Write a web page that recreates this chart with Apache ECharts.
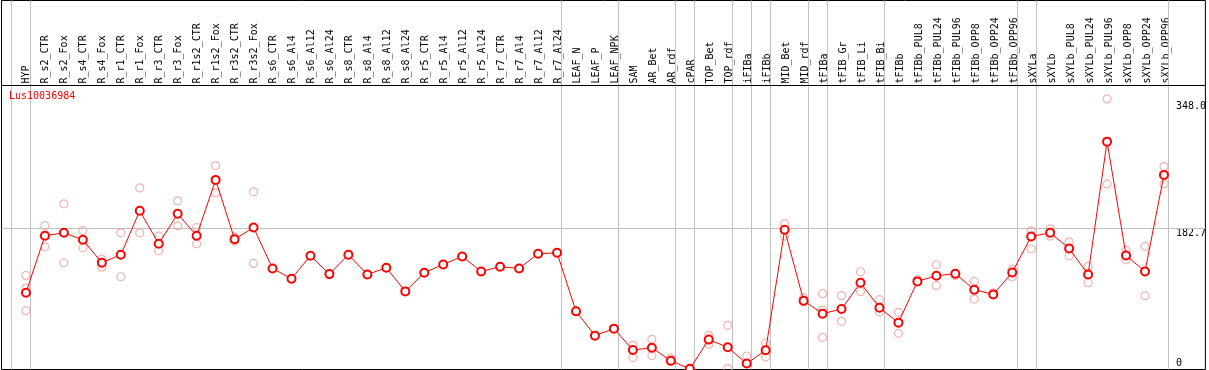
<!DOCTYPE html>
<html>
<head>
<meta charset="utf-8">
<script src="https://cdn.jsdelivr.net/npm/echarts@6/dist/echarts.min.js"></script>
<style>
html,body{margin:0;padding:0;background:#fff;}
#chart{width:1209px;height:370px;}
</style>
</head>
<body>
<div id="chart"></div>
<script>
const geneName = 'Lus10036984';
const categories = ['HYP','R_s2_CTR','R_s2_Fox','R_s4_CTR','R_s4_Fox','R_r1_CTR','R_r1_Fox','R_r3_CTR','R_r3_Fox','R_r1s2_CTR','R_r1s2_Fox','R_r3s2_CTR','R_r3s2_Fox','R_s6_CTR','R_s6_Al4','R_s6_Al12','R_s6_Al24','R_s8_CTR','R_s8_Al4','R_s8_Al12','R_s8_Al24','R_r5_CTR','R_r5_Al4','R_r5_Al12','R_r5_Al24','R_r7_CTR','R_r7_Al4','R_r7_Al12','R_r7_Al24','LEAF_N','LEAF_P','LEAF_NPK','SAM','AR_Bet','AR_rdf','cPAR','TOP_Bet','TOP_rdf','iFIBa','iFIBb','MID_Bet','MID_rdf','tFIBa','tFIB_Gr','tFIB_Li','tFIB_Bi','tFIBb','tFIBb_PUL8','tFIBb_PUL24','tFIBb_PUL96','tFIBb_OPP8','tFIBb_OPP24','tFIBb_OPP96','sXYLa','sXYLb','sXYLb_PUL8','sXYLb_PUL24','sXYLb_PUL96','sXYLb_OPP8','sXYLb_OPP24','sXYLb_OPP96'];
const meanValues = [99.1,173.2,177.1,168.0,138.1,148.5,205.7,162.8,201.8,173.2,246.0,168.8,184.0,130.7,117.3,147.2,123.3,148.5,122.9,131.6,100.8,125.1,135.9,146.3,126.8,132.9,130.7,149.8,151.1,74.8,43.2,52.3,24.5,27.3,10.5,0,38.0,28.0,6.8,24.1,181.0,88.7,71.8,77.8,112.1,79.6,60.1,113.8,121.2,123.8,103.0,96.9,125.5,172.3,177.1,156.7,122.9,295.8,147.6,126.8,252.5];
const rep1 = [121.6,186.6,214.8,180.1,142.8,177.1,235.6,172.7,218.7,184.0,264.6,171.4,230.4,null,null,null,null,null,null,null,null,null,null,null,null,null,null,null,null,null,null,null,30.6,38.4,14.0,null,43.6,56.6,16.6,33.6,188.8,92.6,97.8,95.2,126.4,90.0,73.5,116.0,135.5,121.6,113.8,98.6,129.8,179.7,182.3,165.4,133.3,351.4,154.1,159.3,263.3];
const rep2 = [105.1,158.9,138.1,157.6,132.4,119.9,177.1,153.7,186.2,162.8,229.1,166.2,137.2,null,null,null,null,null,null,null,null,null,null,null,null,null,null,null,null,null,null,null,14.6,17.2,9.4,null,31.9,0.3,null,15.3,172.7,86.9,41.0,61.8,100.4,73.9,46.2,null,108.2,null,90.8,null,119.4,156.3,172.7,147.2,112.1,240.8,142.0,95.2,240.8];
const rep3 = [75.7,null,null,null,null,null,null,null,null,null,null,null,null,null,null,null,null,null,null,null,null,null,null,null,null,null,null,null,null,null,null,null,null,null,null,null,null,null,null,null,null,null,76.1,null,null,null,null,null,null,null,null,null,null,null,null,null,null,null,null,null,null];
const groupEnds = [-1,0,28,31,34,35,37,38,39,41,42,45,52,53,60];
const yTickValues = [348.0, 182.7, 0];
const yTickLabels = ['348.0', '182.7', '0'];

const FONT = "'DejaVu Sans Mono', monospace";
const meanData = meanValues.map((v, i) => [i, v]);
const repData = [];
[rep1, rep2, rep3].forEach(arr => arr.forEach((v, i) => { if (v !== null) repData.push([i, v]); }));

// layout
const X0 = 26, STEP = 19;
const gridLeft = 1.5, gridRight = 1207.5, gridTop = 0.5, gridBottom = 369.5;
const xMin = (gridLeft - X0) / STEP, xMax = (gridRight - X0) / STEP;
const Y0 = 368.8, PXU = 140.3 / 182.7;
const yMin = -(gridBottom - Y0) / PXU, yMax = (Y0 - gridTop) / PXU;
const headerY = 85.5;
const headerVal = (Y0 - headerY) / PXU;
const lblFmt = v => { const k = yTickValues.findIndex(t => Math.abs(t - v) < 1e-6); return k >= 0 ? yTickLabels[k] : ''; };

const markData = groupEnds.map(g => ({ xAxis: g + 4.5 / STEP, lineStyle: { color: '#c0c0c0', width: 1, type: 'solid' } }));
markData.push({ yAxis: yTickValues[1], lineStyle: { color: '#c0c0c0', width: 1, type: 'solid' } });
markData.push({ yAxis: headerVal, lineStyle: { color: '#000', width: 1, type: 'solid' } });

const chart = echarts.init(document.getElementById('chart'), null, { renderer: 'canvas' });
chart.setOption({
  animation: false,
  backgroundColor: '#fff',
  title: { text: geneName, left: 9, top: 91, padding: 0, textStyle: { color: '#ff0000', fontFamily: FONT, fontSize: 10, fontWeight: 'normal' } },
  grid: [
    { left: gridLeft, top: gridTop, width: gridRight - gridLeft, height: gridBottom - gridTop, show: true, borderColor: '#000', borderWidth: 1, backgroundColor: 'transparent', containLabel: false },
    { left: X0 - STEP / 2, top: headerY, width: STEP * categories.length, height: 20, show: false, containLabel: false }
  ],
  xAxis: [
    { gridIndex: 0, type: 'value', min: xMin, max: xMax, show: false },
    { gridIndex: 1, type: 'category', data: categories, position: 'top', boundaryGap: true,
      axisLine: { show: false }, axisTick: { show: false }, splitLine: { show: false },
      axisLabel: { interval: 0, rotate: 90, margin: 2, fontFamily: FONT, fontSize: 10, color: '#000' } }
  ],
  yAxis: [
    { gridIndex: 0, type: 'value', min: yMin, max: yMax, position: 'right',
      axisLine: { show: false }, axisTick: { show: false }, splitLine: { show: false },
      axisLabel: { inside: true, customValues: yTickValues.slice(0, 2), formatter: lblFmt, align: 'left', verticalAlign: 'top', margin: 29.5, fontFamily: FONT, fontSize: 10, color: '#000' } },
    { gridIndex: 0, type: 'value', min: yMin, max: yMax, position: 'right',
      axisLine: { show: false }, axisTick: { show: false }, splitLine: { show: false },
      axisLabel: { inside: true, customValues: yTickValues.slice(2), formatter: lblFmt, align: 'left', verticalAlign: 'bottom', margin: 29.5, fontFamily: FONT, fontSize: 10, color: '#000' } },
    { gridIndex: 1, type: 'value', show: false }
  ],
  series: [
    { type: 'scatter', xAxisIndex: 0, yAxisIndex: 0, data: repData, z: 2,
      symbol: 'circle', symbolSize: 8,
      itemStyle: { color: 'rgba(0,0,0,0)', borderColor: '#f0a0a0', borderWidth: 1.2 },
      markLine: { silent: true, z: 1, symbol: ['none', 'none'], label: { show: false }, animation: false, data: markData } },
    { type: 'line', xAxisIndex: 0, yAxisIndex: 0, data: meanData, z: 3,
      symbol: 'emptyCircle', symbolSize: 8, showSymbol: true, showAllSymbol: true,
      lineStyle: { color: '#ff0000', width: 1 },
      itemStyle: { color: '#ff0000', borderColor: '#ff0000', borderWidth: 1.3 } }
  ]
});
</script>
</body>
</html>
